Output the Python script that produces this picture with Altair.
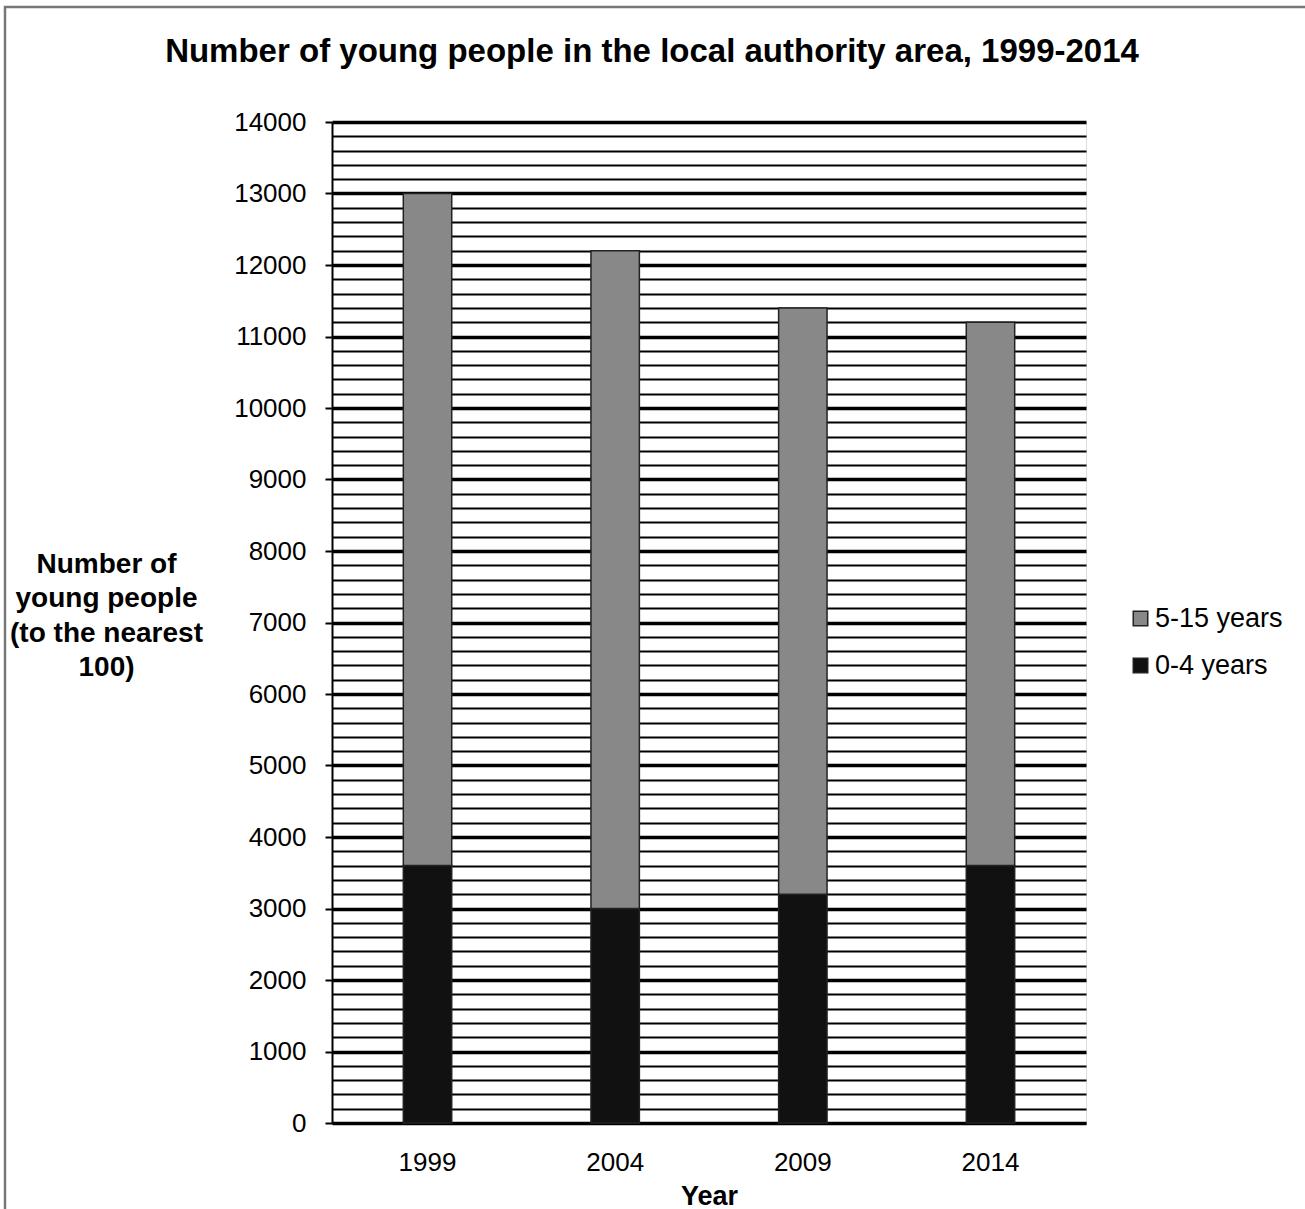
import altair as alt
import pandas as pd

# Young people in the local authority area, by survey year and age band
years = ["1999", "2004", "2009", "2014"]
age_0_4 = [3600, 3000, 3200, 3600]
age_5_15 = [9400, 9200, 8200, 7600]
bands = ["5-15 years", "0-4 years"]
band_colors = ["#888888", "#111111"]
chart_title = "Number of young people in the local authority area, 1999-2014"

rows = []
for i, y in enumerate(years):
    rows.append({"Year": y, "Age": "0-4 years", "Count": age_0_4[i], "stack": 0})
    rows.append({"Year": y, "Age": "5-15 years", "Count": age_5_15[i], "stack": 1})
df = pd.DataFrame(rows)

FONT = "Liberation Sans"
major = "datum.value % 1000 === 0"

bars = alt.Chart(df).mark_bar(stroke="#222222", strokeWidth=1.5).encode(
    x=alt.X(
        "Year:N",
        sort=years,
        scale=alt.Scale(paddingInner=0.742, paddingOuter=0.38),
        axis=alt.Axis(
            title="Year",
            labelAngle=0,
            labelFontSize=26,
            labelFont=FONT,
            labelColor="#000000",
            labelPadding=26,
            ticks=False,
            domainColor="#000000",
            domainWidth=2,
            titleFont=FONT,
            titleFontSize=27,
            titleFontWeight="bold",
            titleColor="#000000",
            titleBaseline="alphabetic",
            titleY=81,
        ),
    ),
    y=alt.Y(
        "Count:Q",
        stack="zero",
        scale=alt.Scale(domain=[0, 14000], nice=False),
        axis=alt.Axis(
            values=list(range(0, 14001, 200)),
            labelExpr=f"{major} ? datum.value : ''",
            labelFontSize=26,
            labelFont=FONT,
            labelColor="#000000",
            labelPadding=19,
            tickSize=7,
            tickColor="#000000",
            tickWidth=2,
            tickOpacity={"condition": {"test": major, "value": 1}, "value": 0},
            grid=True,
            gridColor="#000000",
            gridOpacity=1,
            gridWidth={"condition": {"test": major, "value": 3.5}, "value": 1.8},
            domainColor="#000000",
            domainWidth=2,
            title=["Number of", "young people", "(to the nearest", "100)"],
            titleAngle=0,
            titleAlign="center",
            titleBaseline="middle",
            titleX=-226,
            titleY=442,
            titleFont=FONT,
            titleFontSize=28,
            titleFontWeight="bold",
            titleColor="#000000",
            titleLineHeight=34.5,
        ),
    ),
    color=alt.Color(
        "Age:N",
        scale=alt.Scale(domain=bands, range=band_colors),
        legend=alt.Legend(
            title=None,
            orient="none",
            legendX=795,
            legendY=483,
            symbolType="square",
            symbolSize=210,
            symbolStrokeColor="#222222",
            symbolStrokeWidth=1.5,
            labelFont=FONT,
            labelFontSize=27,
            labelColor="#000000",
            labelOffset=1,
            rowPadding=19,
        ),
    ),
    order=alt.Order("stack:Q", sort="ascending"),
)

one_row = pd.DataFrame({"k": [0]})

# Chart heading, centred on the whole figure rather than the plot
heading = alt.Chart(one_row).mark_text(
    font=FONT, fontSize=33, fontWeight="bold", color="#000000",
    align="center", baseline="middle",
).encode(
    x=alt.value(320),
    y=alt.value(-70),
    text=alt.value(chart_title),
)

# Thin grey frame around the whole figure
frame = alt.Chart(one_row).mark_rect(
    fill=None, stroke="#777777", strokeWidth=2.5
).encode(
    x=alt.value(-327),
    x2=alt.value(1100),
    y=alt.value(-115),
    y2=alt.value(1200),
)

chart = alt.layer(bars, heading, frame).properties(
    width=754,
    height=1001,
    autosize=alt.AutoSizeParams(type="none"),
    padding={"left": 332, "top": 122, "right": 219, "bottom": 86},
).configure_view(stroke="#000000", strokeWidth=2).configure(background="white")

chart.save("out.html", embed_options={"renderer": "svg", "actions": False})
